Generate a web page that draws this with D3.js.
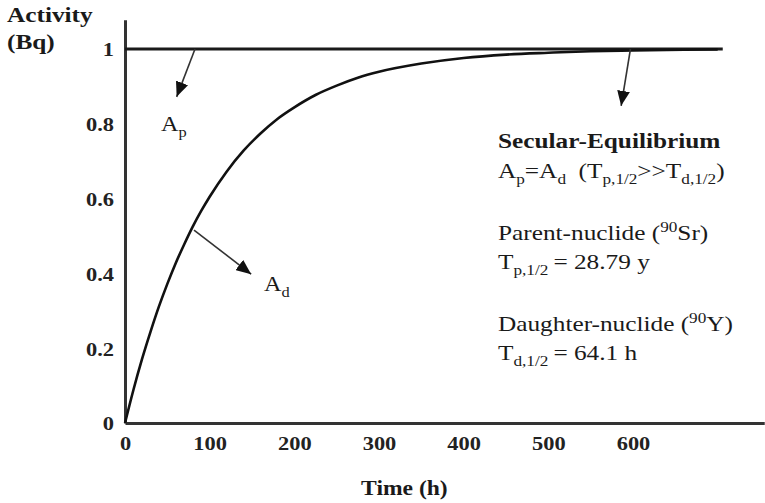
<!DOCTYPE html>
<html>
<head>
<meta charset="utf-8">
<script src="https://cdn.jsdelivr.net/npm/d3@7"></script>
<style>
  html, body { margin: 0; padding: 0; background: #fff; }
  svg { display: block; }
</style>
</head>
<body>
<svg id="chart" width="765" height="503"></svg>
<script>
// Daughter (90Y) activity growing in from the 90Sr parent, sampled in hours
const timeHours = [0, 10, 20, 30, 40, 50, 60, 70, 80, 90, 100, 120, 140, 160, 180, 200, 225, 250, 275, 300, 350, 400, 450, 500, 550, 600, 700];
const daughterActivity = [0, 0.089, 0.170, 0.243, 0.311, 0.372, 0.428, 0.478, 0.525, 0.567, 0.605, 0.672, 0.728, 0.774, 0.813, 0.844, 0.877, 0.902, 0.923, 0.939, 0.961, 0.976, 0.985, 0.990, 0.994, 0.996, 0.999];

// Parent activity stays constant over this time window
const parentTime = [0, 706];
const parentActivity = [1, 1];

// Axis ticks
const xTicks = [0, 100, 200, 300, 400, 500, 600];
const yTicks = [0, 0.2, 0.4, 0.6, 0.8, 1];
const yTickLabels = ["0", "0.2", "0.4", "0.6", "0.8", "1"];

// Pointer arrows: [from time, from activity, to time, to activity]
const arrowParent1 = [82.7, 1.0, 61.0, 0.872];
const arrowParent2 = [597, 1.0, 586.0, 0.848];
const arrowDaughter = [81.5, 0.516, 149, 0.398];

const svg = d3.select("#chart");
const SERIF = "'Liberation Serif', 'Times New Roman', serif";
const SX = 1.15; // horizontally widened lettering

const pxPerHour = 508 / 600;
const x = d3.scaleLinear().domain([0, 755]).range([125, 125 + 755 * pxPerHour]);
const y = d3.scaleLinear().domain([0, 1.078]).range([423, 423 - 1.078 * 374]);

const axisColor = "#333";

// X axis
const gx = svg.append("g")
  .attr("transform", `translate(0,${y(0)})`)
  .call(d3.axisBottom(x).tickValues(xTicks).tickSize(0).tickSizeOuter(0).tickPadding(0));
gx.select(".domain").attr("stroke", axisColor).attr("stroke-width", 3);
gx.selectAll("text")
  .attr("y", 27)
  .attr("dy", 0)
  .attr("transform", `scale(${SX},1)`)
  .attr("font-family", SERIF)
  .attr("font-weight", "bold")
  .attr("font-size", 19.5)
  .attr("fill", "#222");

// Y axis
const gy = svg.append("g")
  .attr("transform", `translate(${x(0)},0)`)
  .call(d3.axisLeft(y).tickValues(yTicks).tickFormat((d, i) => yTickLabels[i]).tickSize(0).tickSizeOuter(0).tickPadding(0));
gy.select(".domain").attr("stroke", axisColor).attr("stroke-width", 3);
gy.selectAll("text")
  .attr("x", -11 / SX)
  .attr("dy", "0.35em")
  .attr("transform", `scale(${SX},1)`)
  .attr("font-family", SERIF)
  .attr("font-weight", "bold")
  .attr("font-size", 19.5)
  .attr("fill", "#222");

// Curves
const line = d3.line().x(d => x(d[0])).y(d => y(d[1]));
svg.append("path")
  .datum(parentTime.map((t, i) => [t, parentActivity[i]]))
  .attr("d", line)
  .attr("fill", "none")
  .attr("stroke", "#1a1a1a")
  .attr("stroke-width", 3);
svg.append("path")
  .datum(timeHours.map((t, i) => [t, daughterActivity[i]]))
  .attr("d", d3.line().curve(d3.curveMonotoneX).x(d => x(d[0])).y(d => y(d[1])))
  .attr("fill", "none")
  .attr("stroke", "#111")
  .attr("stroke-width", 2.6);

// Arrows
svg.append("defs").append("marker")
  .attr("id", "head")
  .attr("viewBox", "0 0 14 12")
  .attr("refX", 14).attr("refY", 6)
  .attr("markerUnits", "userSpaceOnUse")
  .attr("markerWidth", 15).attr("markerHeight", 13)
  .attr("orient", "auto")
  .append("path").attr("d", "M0,0 L14,6 L0,12 Z").attr("fill", "#111");

[arrowParent1, arrowParent2, arrowDaughter].forEach(a => {
  svg.append("line")
    .attr("x1", x(a[0])).attr("y1", y(a[1]))
    .attr("x2", x(a[2])).attr("y2", y(a[3]))
    .attr("stroke", "#333")
    .attr("stroke-width", 1.6)
    .attr("marker-end", "url(#head)");
});

// Text with sub/superscripts; parts are [string, kind]
function label(px, py, parts, opts = {}) {
  const size = opts.size || 22;
  const g = svg.append("g").attr("transform", `translate(${px},${py}) scale(${SX},1)`);
  const t = g.append("text")
    .attr("font-family", SERIF)
    .attr("font-size", size)
    .attr("font-weight", opts.bold ? "bold" : "normal")
    .attr("fill", "#1a1a1a")
    .attr("text-anchor", opts.anchor || "start");
  let cur = 0;
  parts.forEach(([s, kind]) => {
    const target = kind === "sub" ? size * 0.28 : kind === "sup" ? -size * 0.38 : 0;
    t.append("tspan")
      .attr("dy", target - cur)
      .attr("font-size", kind ? size * 0.68 : size)
      .text(s);
    cur = target;
  });
  return g;
}

// Axis titles
label(7, 22, [["Activity"]], { bold: true, size: 22 });
label(7, 49, [["(Bq)"]], { bold: true, size: 22 });
label(x(330), 495, [["Time (h)"]], { bold: true, size: 20.5, anchor: "middle" });

// Curve labels
label(161, 131, [["A"], ["p", "sub"]], { size: 21 });
label(264, 291, [["A"], ["d", "sub"]], { size: 21 });

// Side notes
label(498, 148, [["Secular-Equilibrium"]], { bold: true });
label(498, 178, [["A"], ["p", "sub"], ["=A"], ["d", "sub"], ["\u00a0\u00a0(T"], ["p,1/2", "sub"], [">>T"], ["d,1/2", "sub"], [")"]]);
label(498, 240, [["Parent-nuclide ("], ["90", "sup"], ["Sr)"]]);
label(498, 269, [["T"], ["p,1/2", "sub"], ["\u2009= 28.79 y"]]);
label(498, 331, [["Daughter-nuclide ("], ["90", "sup"], ["Y)"]]);
label(498, 360, [["T"], ["d,1/2", "sub"], ["\u2009= 64.1 h"]]);
</script>
</body>
</html>
